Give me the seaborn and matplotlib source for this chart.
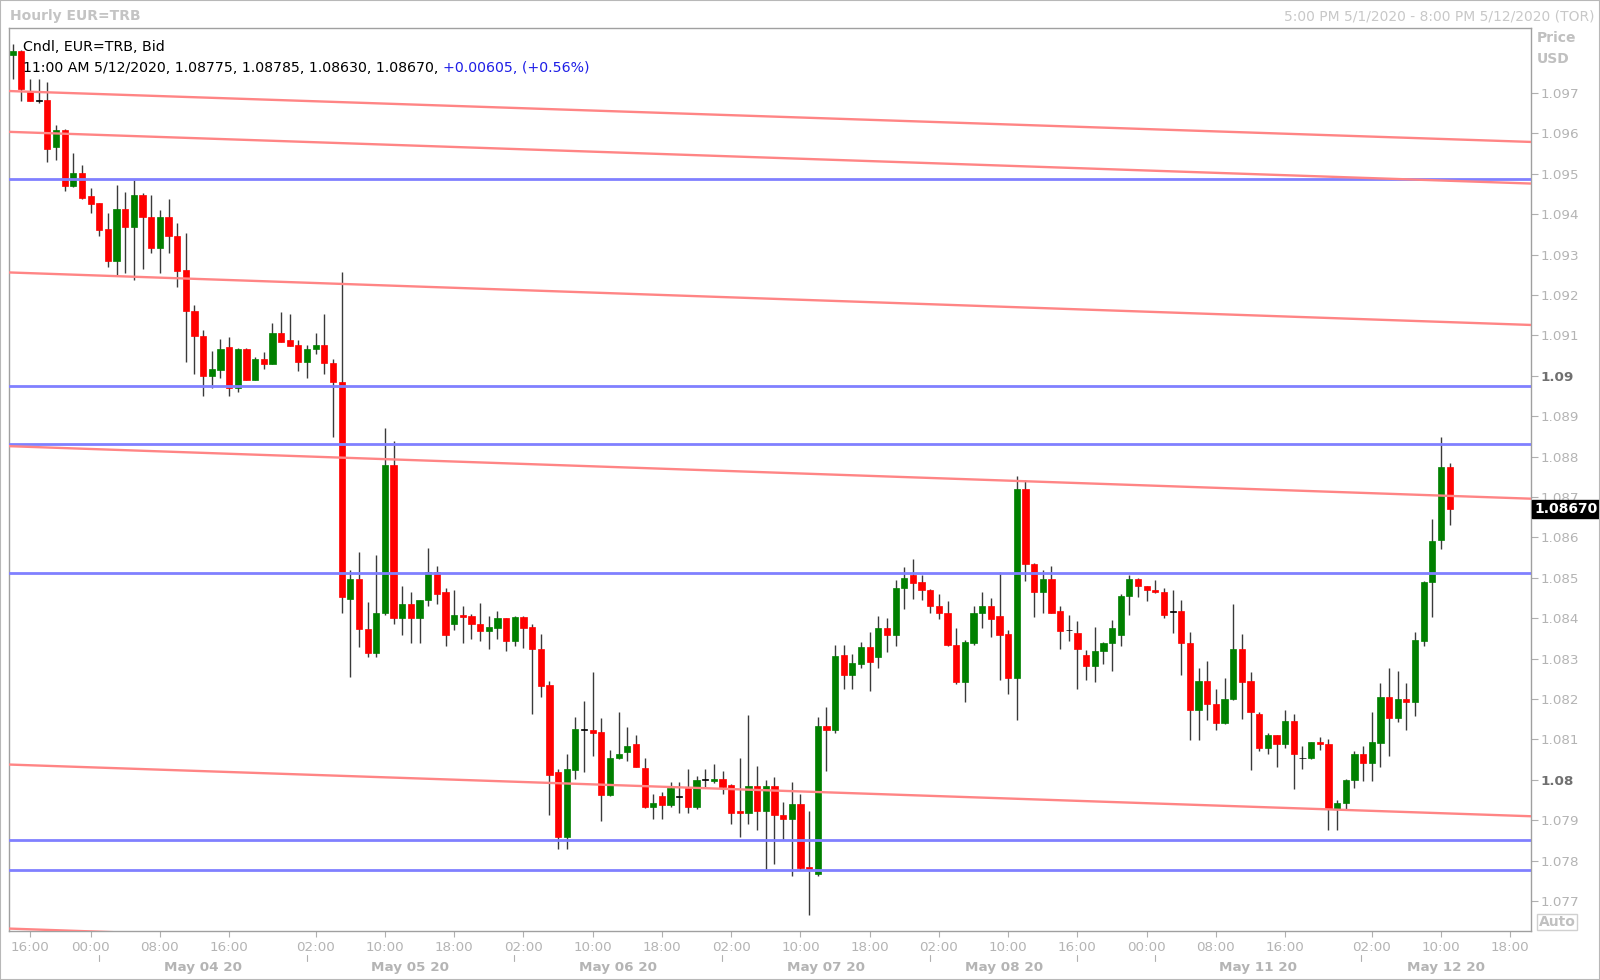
import numpy as np
import matplotlib
matplotlib.use('Agg')
import matplotlib.pyplot as plt
import matplotlib.transforms as mtransforms
from matplotlib.patches import Rectangle
import seaborn as sns

# hourly candles EUR=TRB bid (oldest first)
opens = [
    1.09793, 1.09804, 1.09706, 1.09681, 1.09683, 1.09566, 1.09608, 1.09470, 1.09501, 1.09444,
    1.09427, 1.09363, 1.09284, 1.09412, 1.09369, 1.09448, 1.09394, 1.09316, 1.09394, 1.09346,
    1.09262, 1.09161, 1.09099, 1.09000, 1.09014, 1.09072, 1.08969, 1.09067, 1.08990, 1.09042,
    1.09030, 1.09107, 1.09090, 1.09076, 1.09035, 1.09066, 1.09076, 1.09031, 1.08985, 1.08448,
    1.08498, 1.08373, 1.08313, 1.08414, 1.08779, 1.08400, 1.08435, 1.08400, 1.08445, 1.08515,
    1.08466, 1.08385, 1.08409, 1.08405, 1.08386, 1.08368, 1.08377, 1.08400, 1.08344, 1.08404,
    1.08379, 1.08325, 1.08234, 1.08020, 1.07859, 1.08024, 1.08124, 1.08123, 1.08118, 1.07962,
    1.08053, 1.08068, 1.08088, 1.08030, 1.07932, 1.07960, 1.07937, 1.07958, 1.07981, 1.07932,
    1.07999, 1.07998, 1.08003, 1.07988, 1.07923, 1.07918, 1.07985, 1.07923, 1.07985, 1.07914,
    1.07903, 1.07941, 1.07785, 1.07768, 1.08133, 1.08123, 1.08310, 1.08259, 1.08288, 1.08329,
    1.08304, 1.08375, 1.08358, 1.08475, 1.08507, 1.08490, 1.08471, 1.08430, 1.08414, 1.08333,
    1.08243, 1.08340, 1.08413, 1.08431, 1.08405, 1.08361, 1.08253, 1.08720, 1.08534, 1.08466,
    1.08498, 1.08418, 1.08370, 1.08364, 1.08310, 1.08282, 1.08318, 1.08340, 1.08358, 1.08455,
    1.08498, 1.08480, 1.08471, 1.08466, 1.08416, 1.08418, 1.08340, 1.08173, 1.08244, 1.08189,
    1.08140, 1.08199, 1.08325, 1.08244, 1.08164, 1.08078, 1.08111, 1.08088, 1.08145, 1.08053,
    1.08053, 1.08093, 1.08090, 1.07929, 1.07944, 1.07999, 1.08065, 1.08043, 1.08092, 1.08206,
    1.08154, 1.08199, 1.08193, 1.08344, 1.08490, 1.08593, 1.08775,
]
highs = [
    1.09821, 1.09806, 1.09736, 1.09736, 1.09728, 1.09621, 1.09610, 1.09552, 1.09522, 1.09464,
    1.09428, 1.09404, 1.09472, 1.09456, 1.09485, 1.09452, 1.09448, 1.09411, 1.09437, 1.09379,
    1.09353, 1.09175, 1.09113, 1.09061, 1.09091, 1.09096, 1.09068, 1.09068, 1.09046, 1.09060,
    1.09131, 1.09158, 1.09153, 1.09090, 1.09076, 1.09107, 1.09153, 1.09041, 1.09256, 1.08519,
    1.08565, 1.08440, 1.08556, 1.08871, 1.08840, 1.08480, 1.08466, 1.08446, 1.08575, 1.08530,
    1.08475, 1.08471, 1.08431, 1.08410, 1.08437, 1.08405, 1.08418, 1.08401, 1.08405, 1.08405,
    1.08385, 1.08360, 1.08244, 1.08028, 1.08065, 1.08155, 1.08195, 1.08266, 1.08154, 1.08075,
    1.08168, 1.08130, 1.08111, 1.08053, 1.07965, 1.07969, 1.07994, 1.07994, 1.08026, 1.08009,
    1.08026, 1.08039, 1.08021, 1.07989, 1.08053, 1.08160, 1.08035, 1.07999, 1.08008, 1.07946,
    1.07995, 1.07964, 1.07924, 1.08156, 1.08180, 1.08333, 1.08335, 1.08311, 1.08342, 1.08365,
    1.08406, 1.08400, 1.08494, 1.08526, 1.08546, 1.08507, 1.08472, 1.08459, 1.08443, 1.08375,
    1.08346, 1.08431, 1.08465, 1.08449, 1.08515, 1.08372, 1.08752, 1.08742, 1.08537, 1.08520,
    1.08530, 1.08430, 1.08409, 1.08394, 1.08321, 1.08379, 1.08341, 1.08395, 1.08460, 1.08507,
    1.08499, 1.08481, 1.08494, 1.08476, 1.08471, 1.08445, 1.08366, 1.08276, 1.08295, 1.08226,
    1.08253, 1.08435, 1.08360, 1.08266, 1.08168, 1.08115, 1.08112, 1.08174, 1.08164, 1.08083,
    1.08094, 1.08105, 1.08100, 1.07950, 1.08003, 1.08071, 1.08084, 1.08168, 1.08239, 1.08276,
    1.08270, 1.08239, 1.08365, 1.08492, 1.08645, 1.08849, 1.08785,
]
lows = [
    1.09736, 1.09681, 1.09680, 1.09676, 1.09530, 1.09534, 1.09458, 1.09468, 1.09437, 1.09404,
    1.09345, 1.09270, 1.09250, 1.09254, 1.09237, 1.09264, 1.09303, 1.09255, 1.09305, 1.09219,
    1.09035, 1.09004, 1.08950, 1.08969, 1.08995, 1.08950, 1.08960, 1.08989, 1.08989, 1.09017,
    1.09029, 1.09083, 1.09073, 1.09013, 1.08995, 1.09055, 1.09004, 1.08849, 1.08414, 1.08254,
    1.08328, 1.08305, 1.08305, 1.08408, 1.08386, 1.08358, 1.08340, 1.08340, 1.08430, 1.08435,
    1.08332, 1.08372, 1.08340, 1.08348, 1.08344, 1.08323, 1.08348, 1.08320, 1.08332, 1.08327,
    1.08163, 1.08204, 1.07913, 1.07828, 1.07828, 1.08003, 1.08020, 1.08060, 1.07899, 1.07961,
    1.08052, 1.08047, 1.08031, 1.07931, 1.07903, 1.07903, 1.07932, 1.07917, 1.07917, 1.07927,
    1.07983, 1.07993, 1.07966, 1.07890, 1.07859, 1.07890, 1.07877, 1.07777, 1.07793, 1.07852,
    1.07762, 1.07778, 1.07665, 1.07763, 1.08022, 1.08117, 1.08224, 1.08224, 1.08277, 1.08220,
    1.08277, 1.08317, 1.08332, 1.08424, 1.08447, 1.08445, 1.08413, 1.08399, 1.08332, 1.08238,
    1.08193, 1.08333, 1.08377, 1.08354, 1.08248, 1.08212, 1.08149, 1.08493, 1.08404, 1.08413,
    1.08412, 1.08323, 1.08344, 1.08224, 1.08248, 1.08243, 1.08288, 1.08269, 1.08332, 1.08407,
    1.08453, 1.08443, 1.08463, 1.08400, 1.08364, 1.08259, 1.08098, 1.08098, 1.08148, 1.08123,
    1.08139, 1.08198, 1.08150, 1.08024, 1.08072, 1.08064, 1.08032, 1.08078, 1.07977, 1.08028,
    1.08052, 1.08073, 1.07877, 1.07877, 1.07929, 1.07979, 1.07998, 1.07998, 1.08032, 1.08059,
    1.08144, 1.08123, 1.08158, 1.08331, 1.08404, 1.08571, 1.08630,
]
closes = [
    1.09804, 1.09709, 1.09681, 1.09681, 1.09561, 1.09608, 1.09470, 1.09501, 1.09441, 1.09425,
    1.09361, 1.09284, 1.09412, 1.09369, 1.09448, 1.09392, 1.09316, 1.09394, 1.09345, 1.09260,
    1.09160, 1.09099, 1.09000, 1.09016, 1.09067, 1.08969, 1.09067, 1.08990, 1.09042, 1.09030,
    1.09107, 1.09084, 1.09074, 1.09035, 1.09067, 1.09076, 1.09031, 1.08985, 1.08453, 1.08498,
    1.08373, 1.08313, 1.08414, 1.08779, 1.08400, 1.08435, 1.08400, 1.08445, 1.08515, 1.08459,
    1.08358, 1.08409, 1.08404, 1.08385, 1.08368, 1.08379, 1.08400, 1.08344, 1.08404, 1.08377,
    1.08324, 1.08233, 1.08012, 1.07859, 1.08026, 1.08125, 1.08124, 1.08117, 1.07962, 1.08053,
    1.08065, 1.08084, 1.08032, 1.07932, 1.07944, 1.07937, 1.07981, 1.07958, 1.07932, 1.07999,
    1.07999, 1.08003, 1.07983, 1.07918, 1.07918, 1.07985, 1.07923, 1.07985, 1.07913, 1.07903,
    1.07941, 1.07783, 1.07778, 1.08133, 1.08123, 1.08306, 1.08259, 1.08290, 1.08329, 1.08292,
    1.08375, 1.08358, 1.08475, 1.08500, 1.08488, 1.08469, 1.08430, 1.08413, 1.08333, 1.08243,
    1.08342, 1.08414, 1.08431, 1.08398, 1.08358, 1.08252, 1.08720, 1.08534, 1.08466, 1.08498,
    1.08413, 1.08369, 1.08370, 1.08323, 1.08282, 1.08319, 1.08340, 1.08375, 1.08455, 1.08498,
    1.08480, 1.08470, 1.08464, 1.08408, 1.08416, 1.08340, 1.08173, 1.08244, 1.08189, 1.08140,
    1.08199, 1.08325, 1.08243, 1.08168, 1.08078, 1.08111, 1.08088, 1.08145, 1.08065, 1.08053,
    1.08093, 1.08088, 1.07929, 1.07944, 1.07999, 1.08065, 1.08043, 1.08094, 1.08206, 1.08154,
    1.08199, 1.08193, 1.08346, 1.08490, 1.08592, 1.08775, 1.08670,
]

# drawn levels
flat_levels = [1.09488, 1.08974, 1.08831, 1.08511, 1.07850, 1.07776]
trend_start = [1.09705, 1.09604, 1.09256, 1.08826, 1.08038, 1.07632]
trend_end = [1.09579, 1.09476, 1.09126, 1.08696, 1.07910, 1.07502]

# axis text
time_ticks = [2, 9, 17, 25, 35, 43, 51, 59, 67, 75, 83, 91, 99, 107, 115,
              123, 131, 139, 147, 157, 165, 173]
time_labels = ['16:00', '00:00', '08:00', '16:00', '02:00', '10:00', '18:00',
               '02:00', '10:00', '18:00', '02:00', '10:00', '18:00', '02:00',
               '10:00', '16:00', '00:00', '08:00', '16:00', '02:00', '10:00', '18:00']
day_bounds = [10.0, 34.0, 57.9, 81.9, 106.0, 123.0, 132.0, 155.8]
day_labels = ['May 04 20', 'May 05 20', 'May 06 20', 'May 07 20', 'May 08 20',
              '', 'May 11 20', 'May 12 20']
price_ticks = [1.077 + 0.001 * k for k in range(21)]
last_price = 1.08670

sns.set_theme(style='white')
plt.rcParams['font.family'] = ['DejaVu Sans']

W, H = 1600, 980
fig = plt.figure(figsize=(W / 100, H / 100), dpi=100)
ax = fig.add_axes([9 / W, 1 - 931 / H, 1522 / W, 903 / H])

x_lo, x_hi = -0.43, 175.4
ax.set_xlim(x_lo, x_hi)
ax.set_ylim(1.07626, 1.09861)

x = np.arange(len(opens))
o, h, l, c = (np.array(v) for v in (opens, highs, lows, closes))

# candles
ax.vlines(x, l, h, color='#3a3a3a', lw=1.0, zorder=2)
body_lo = np.minimum(o, c)
body_h = np.maximum(np.abs(c - o), 0.00002)
cols = np.where(c > o, '#008000', np.where(c < o, '#ff0000', '#000000'))
ax.bar(x, body_h, bottom=body_lo, width=0.72, color=cols, edgecolor=cols,
       linewidth=0.5, zorder=3)

# levels
for lv in flat_levels:
    ax.axhline(lv, color='#8080ff', lw=2.0, zorder=4)
for s, e in zip(trend_start, trend_end):
    ax.plot([x_lo, x_hi], [s, e], color='#ff8585', lw=1.7, zorder=4)

# axes styling
for sp in ax.spines.values():
    sp.set_color('#a0a0a0')
    sp.set_linewidth(1.0)

ax.set_xticks(time_ticks)
ax.set_xticklabels(time_labels)
ax.tick_params(axis='x', length=4, width=0.8, color='#b0b0b0', pad=3,
               labelsize=9.7, labelcolor='#b4b4b4', bottom=True)

ax.yaxis.tick_right()
ax.set_yticks(price_ticks)
ylabs = [f'{v:.3f}'.rstrip('0') for v in price_ticks]
ax.set_yticklabels(ylabs)
ax.tick_params(axis='y', length=5, width=0.8, color='#b0b0b0', pad=2,
               labelsize=9.7, labelcolor='#b4b4b4', right=True, left=False)
for t, s in zip(ax.get_yticklabels(), ylabs):
    if len(s) == 4:
        t.set_fontweight('bold')
        t.set_color('#707070')

# day row under the time labels
btr = mtransforms.blended_transform_factory(ax.transData, fig.transFigure)
for b in day_bounds:
    ax.plot([b, b], [1 - 955 / H, 1 - 961 / H], color='#b0b0b0', lw=0.8,
            transform=btr, clip_on=False)
edges = day_bounds + [x_hi]
for i, lab in enumerate(day_labels):
    if lab:
        ax.text((edges[i] + edges[i + 1]) / 2, 1 - 967 / H, lab, transform=btr,
                ha='center', va='center', fontsize=9.7, fontweight='bold',
                color='#b4b4b4')

# last price tag
ttr = mtransforms.blended_transform_factory(ax.transAxes, ax.transData)
ax.text(1.0 + 3 / 1522, last_price, f'{last_price:.5f}', transform=ttr,
        ha='left', va='center', fontsize=10, fontweight='bold', color='white',
        zorder=10, clip_on=False,
        bbox=dict(boxstyle='square,pad=0.15', fc='black', ec='black'))

# header texts
fig.text(10 / W, 1 - 16 / H, 'Hourly EUR=TRB', ha='left', va='center',
         fontsize=10, fontweight='bold', color='#c4c4c4')
fig.text(1594 / W, 1 - 16 / H, '5:00 PM 5/1/2020 - 8:00 PM 5/12/2020 (TOR)',
         ha='right', va='center', fontsize=10, color='#c8c8c8')
fig.text(1537 / W, 1 - 38 / H, 'Price', ha='left', va='center', fontsize=10,
         fontweight='bold', color='#c0c0c0')
fig.text(1537 / W, 1 - 59 / H, 'USD', ha='left', va='center', fontsize=10,
         fontweight='bold', color='#c0c0c0')
fig.text(1557 / W, 1 - 922 / H, 'Auto', ha='center', va='center', fontsize=10,
         fontweight='bold', color='#c0c0c0',
         bbox=dict(boxstyle='square,pad=0.1', fc='white', ec='#d0d0d0'))

# series legend inside the plot
t1 = ax.text(14 / 1522, 1 - (47 - 28) / 903, 'Cndl, EUR=TRB, Bid',
             transform=ax.transAxes, ha='left', va='center', fontsize=10.2,
             color='black', zorder=11)
t2 = ax.text(14 / 1522, 1 - (68 - 28) / 903,
             '11:00 AM 5/12/2020, 1.08775, 1.08785, 1.08630, 1.08670, ',
             transform=ax.transAxes, ha='left', va='center', fontsize=10.2,
             color='black', zorder=11)
ax.annotate('+0.00605, (+0.56%)', xy=(1, 0.5), xycoords=t2, ha='left',
            va='center', fontsize=10.2, color='#1f1fe6', zorder=11)

fig.patches.append(Rectangle((0, 0), 1, 1, transform=fig.transFigure,
                             fill=False, ec='#b8b8b8', lw=1.5))

fig.savefig('out.png', dpi=100)
